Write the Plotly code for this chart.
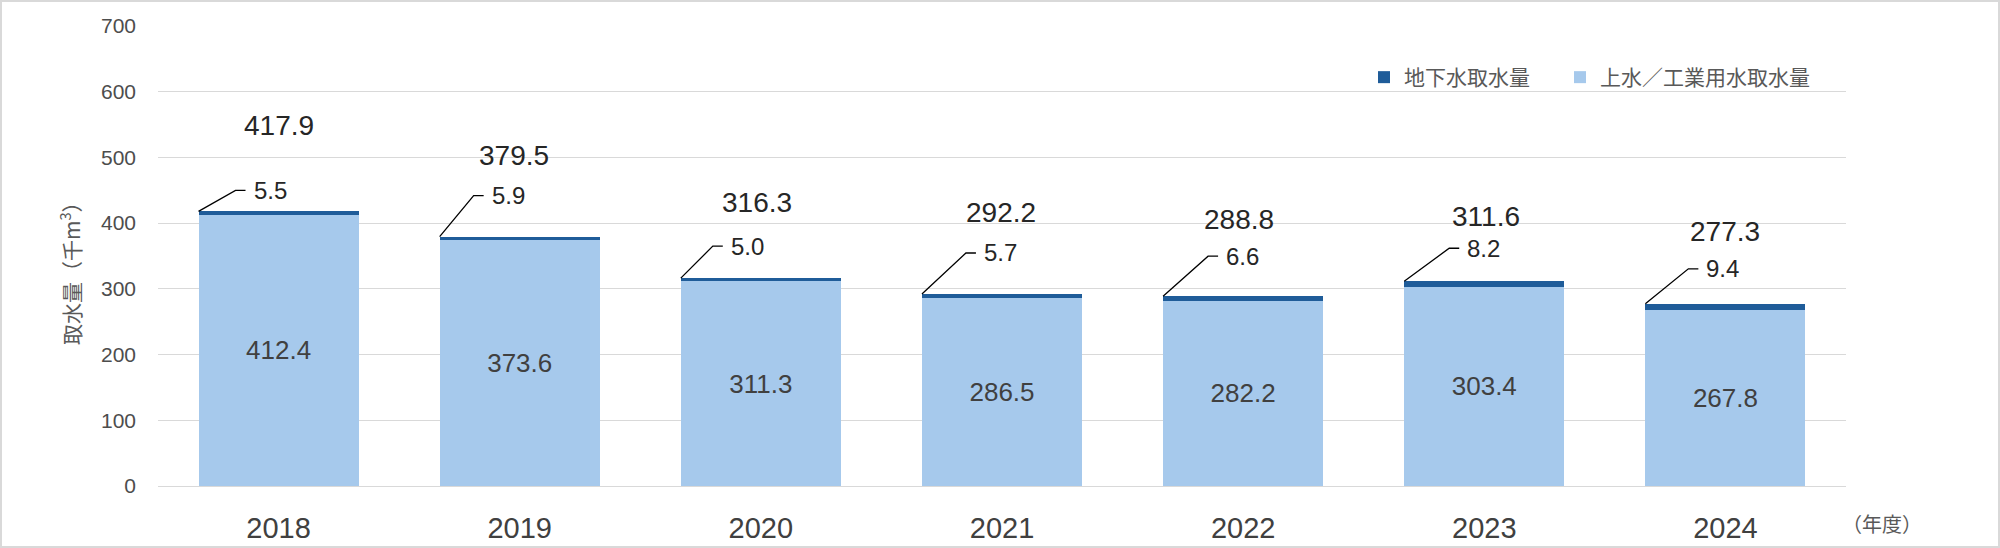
import plotly.graph_objects as go

# ---- data ----
years = ["2018", "2019", "2020", "2021", "2022", "2023", "2024"]
surface = [412.4, 373.6, 311.3, 286.5, 282.2, 303.4, 267.8]   # 上水／工業用水取水量
ground = [5.5, 5.9, 5.0, 5.7, 6.6, 8.2, 9.4]                   # 地下水取水量
totals = [417.9, 379.5, 316.3, 292.2, 288.8, 311.6, 277.3]
y_ticks = [0, 100, 200, 300, 400, 500, 600, 700]

# ---- label placement (pixels, manual as in the original) ----
leader_dx = [37, 34, 32, 44, 45, 45, 43]
leader_dy = [21, 41, 32, 41, 40, 33, 35]
total_up = [86, 81, 76, 81, 77, 65, 72]
total_dx = [0, -6, -4, -1, -4, 2, 0]

FONT = "Liberation Sans, Arial, Noto Sans CJK JP, sans-serif"
JFONT = "Noto Sans CJK JP, Liberation Sans, sans-serif"
L_PLOT, R_PLOT, T_PLOT, B_PLOT = 158, 1846, 26, 486
PW, PH = R_PLOT - L_PLOT, B_PLOT - T_PLOT
BARGAP = 0.336
half = (1 - BARGAP) / 2

fig = go.Figure()
fig.add_trace(go.Bar(
    x=years, y=surface, name="上水／工業用水取水量", legend="legend2",
    marker=dict(color="#A6C9EC", line=dict(width=0)),
    text=[f"{v:.1f}" for v in surface], textposition="inside",
    insidetextanchor="middle", textangle=0,
    textfont=dict(family=FONT, size=26, color="#404040"),
    hoverinfo="skip",
))
fig.add_trace(go.Bar(
    x=years, y=ground, name="地下水取水量", legend="legend",
    marker=dict(color="#1F5C99", line=dict(width=0)),
    hoverinfo="skip",
))

annotations = []
shapes = []
for i, yr in enumerate(years):
    top = surface[i] + ground[i]
    dx, dy = leader_dx[i], leader_dy[i]
    # leader line: from bar top-left corner, diagonal then short horizontal
    shapes.append(dict(
        type="path", xref="x", yref="y",
        xsizemode="pixel", ysizemode="pixel",
        xanchor=i - half, yanchor=top,
        path=f"M0,0 L{dx},{dy} L{dx + 10},{dy}",
        line=dict(color="#000000", width=1.3),
    ))
    annotations.append(dict(
        x=i - half, y=top, xref="x", yref="y",
        text=f"{ground[i]:.1f}", showarrow=False,
        xanchor="left", yanchor="middle",
        xshift=dx + 16, yshift=dy,
        font=dict(family=FONT, size=24, color="#262626"),
    ))
    annotations.append(dict(
        x=i, y=totals[i], xref="x", yref="y",
        text=f"{totals[i]:.1f}", showarrow=False,
        xanchor="center", yanchor="middle",
        xshift=total_dx[i], yshift=total_up[i],
        font=dict(family=FONT, size=28, color="#262626"),
    ))

# y-axis title
annotations.append(dict(
    x=(70 - L_PLOT) / PW, y=(B_PLOT - 268) / PH, xref="paper", yref="paper",
    text="取水量（千m<sup>3</sup>）", textangle=-90, showarrow=False,
    xanchor="center", yanchor="middle",
    font=dict(family=JFONT, size=21, color="#595959"),
))
# x-axis unit
annotations.append(dict(
    x=(1840 - L_PLOT) / PW, y=(B_PLOT - 523) / PH, xref="paper", yref="paper",
    text="（年度）", showarrow=False, xanchor="left", yanchor="middle",
    font=dict(family=JFONT, size=20, color="#595959"),
))

# outer frame
shapes.append(dict(
    type="rect", xref="paper", yref="paper", layer="below",
    x0=(1 - L_PLOT) / PW, x1=(1999 - L_PLOT) / PW,
    y0=(B_PLOT - 547) / PH, y1=(B_PLOT - 1) / PH,
    line=dict(color="#D9D9D9", width=2), fillcolor="rgba(0,0,0,0)",
))

legend_common = dict(
    orientation="h", xanchor="left", yanchor="top",
    font=dict(family=JFONT, size=21, color="#595959"),
    bgcolor="rgba(0,0,0,0)", borderwidth=0,
)

fig.update_layout(
    width=2000, height=548,
    margin=dict(l=L_PLOT, r=2000 - R_PLOT, t=T_PLOT, b=548 - B_PLOT, pad=0),
    paper_bgcolor="white", plot_bgcolor="white",
    barmode="stack", bargap=BARGAP,
    font=dict(family=FONT, color="#595959"),
    showlegend=True,
    legend=dict(x=(1364 - L_PLOT) / PW, y=(B_PLOT - 57) / PH, **legend_common),
    legend2=dict(x=(1560 - L_PLOT) / PW, y=(B_PLOT - 57) / PH, **legend_common),
    xaxis=dict(
        type="category", showgrid=False, zeroline=False, showline=False,
        automargin=False,
        ticks="", tickfont=dict(family=FONT, size=29, color="#404040"),
        ticklabelstandoff=22,
    ),
    yaxis=dict(
        range=[0, 700], tickvals=y_ticks, showgrid=True, automargin=False,
        gridcolor="#D9D9D9", gridwidth=1.3, zeroline=True,
        zerolinecolor="#D9D9D9", zerolinewidth=1.3, showline=False,
        ticks="", tickfont=dict(family=FONT, size=21, color="#4D4D4D"),
        ticklabelstandoff=21,
    ),
    annotations=annotations, shapes=shapes,
)

fig.write_html(
    "out.html",
    config={"displayModeBar": False},
    post_script="document.body.style.margin='0';document.body.style.overflow='hidden';",
)
